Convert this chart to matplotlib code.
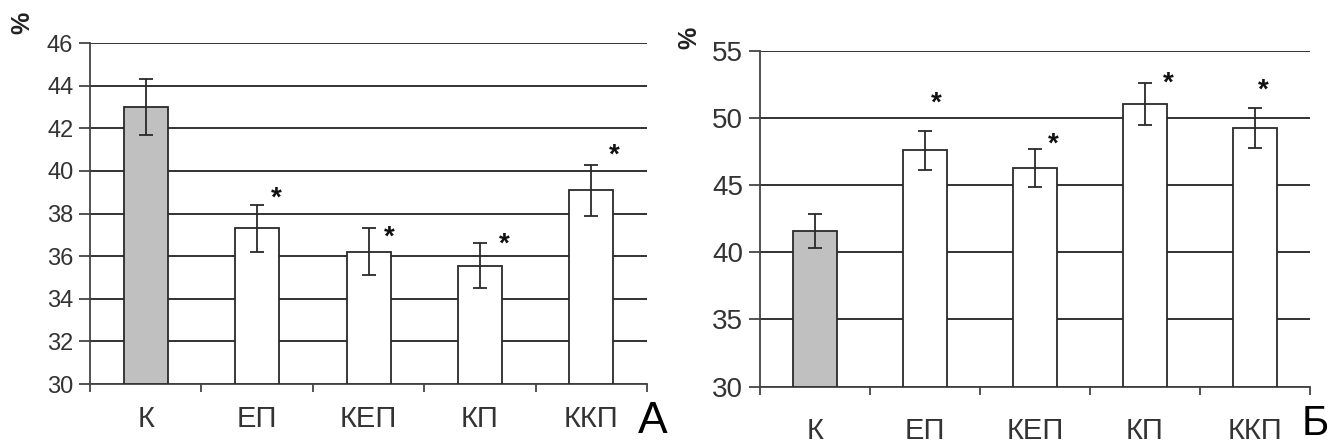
import numpy as np
import matplotlib
matplotlib.use("Agg")
import matplotlib.pyplot as plt

plt.rcParams['font.family'] = ['Liberation Sans', 'DejaVu Sans']

groups = ["К", "ЕП", "КЕП", "КП", "ККП"]

# панель А
values_a = [43.0, 37.3, 36.2, 35.55, 39.1]
errors_a = [1.3, 1.1, 1.1, 1.05, 1.2]
star_dx_a = [None, 0.17, 0.19, 0.22, 0.21]
star_y_a = [None, 38.72, 36.87, 36.52, 40.72]

# панель Б
values_b = [41.6, 47.6, 46.25, 51.05, 49.25]
errors_b = [1.25, 1.45, 1.4, 1.55, 1.5]
star_dx_b = [None, 0.10, 0.17, 0.21, 0.08]
star_y_b = [None, 51.05, 48.0, 52.55, 52.05]


def draw_panel(ax, values, errors, star_dx, star_y, ylim, ystep, tick_size, cat_size, cat_pad):
    x = np.arange(len(groups))
    colors = ["#c0c0c0"] + ["white"] * (len(groups) - 1)
    ax.bar(x, [v - ylim[0] for v in values], bottom=ylim[0], width=0.395,
           color=colors, edgecolor="#2a2a2a", linewidth=1.3, zorder=3)
    ax.errorbar(x, values, yerr=errors, fmt="none", ecolor="#2a2a2a",
                elinewidth=1.3, capsize=5, capthick=1.3, zorder=4)
    for i in range(len(groups)):
        if star_y[i] is not None:
            ax.text(x[i] + star_dx[i], star_y[i], "*", ha="center", va="center",
                    fontsize=20, fontweight="bold", color="#111", zorder=5)

    ax.set_xlim(-0.5, len(groups) - 0.5)
    ax.set_ylim(*ylim)
    ax.set_yticks(np.arange(ylim[0], ylim[1] + 0.1, ystep))
    ax.yaxis.grid(True, color="#222", linewidth=1.3, zorder=0)
    ax.set_axisbelow(True)
    for s in ["top", "right"]:
        ax.spines[s].set_visible(False)
    for s in ["left", "bottom"]:
        ax.spines[s].set_color("#444")
        ax.spines[s].set_linewidth(1.3)

    ax.set_xticks(x)
    ax.set_xticklabels(groups, fontsize=cat_size, color="#333")
    ax.set_xticks(np.arange(-0.5, len(groups)), minor=True)
    ax.tick_params(axis="x", which="major", length=0, pad=cat_pad)
    ax.tick_params(axis="x", which="minor", length=6, width=1.3, color="#444")
    ax.tick_params(axis="y", length=8, width=1.3, color="#444",
                   labelsize=tick_size, labelcolor="#333", pad=4)


fig = plt.figure(figsize=(13.28, 4.44), dpi=100)

ax_a = fig.add_axes([0.0678, 0.1351, 0.4194, 0.768])
draw_panel(ax_a, values_a, errors_a, star_dx_a, star_y_a, (30, 46), 2, 17, 21, 15)

ax_b = fig.add_axes([0.5723, 0.1291, 0.4141, 0.7567])
draw_panel(ax_b, values_b, errors_b, star_dx_b, star_y_b, (30, 55), 5, 20, 21, 22)

fig.text(0.0166, 0.948, "%", rotation=90, fontsize=18, fontweight="bold",
         color="#222", ha="center", va="center")
fig.text(0.519, 0.914, "%", rotation=90, fontsize=18, fontweight="bold",
         color="#222", ha="center", va="center")
fig.text(0.480, 0.005, "А", fontsize=32, color="black", ha="left", va="bottom")
fig.text(0.980, 0.0, "Б", fontsize=30, color="black", ha="left", va="bottom")

fig.savefig("out.png", dpi=100)
